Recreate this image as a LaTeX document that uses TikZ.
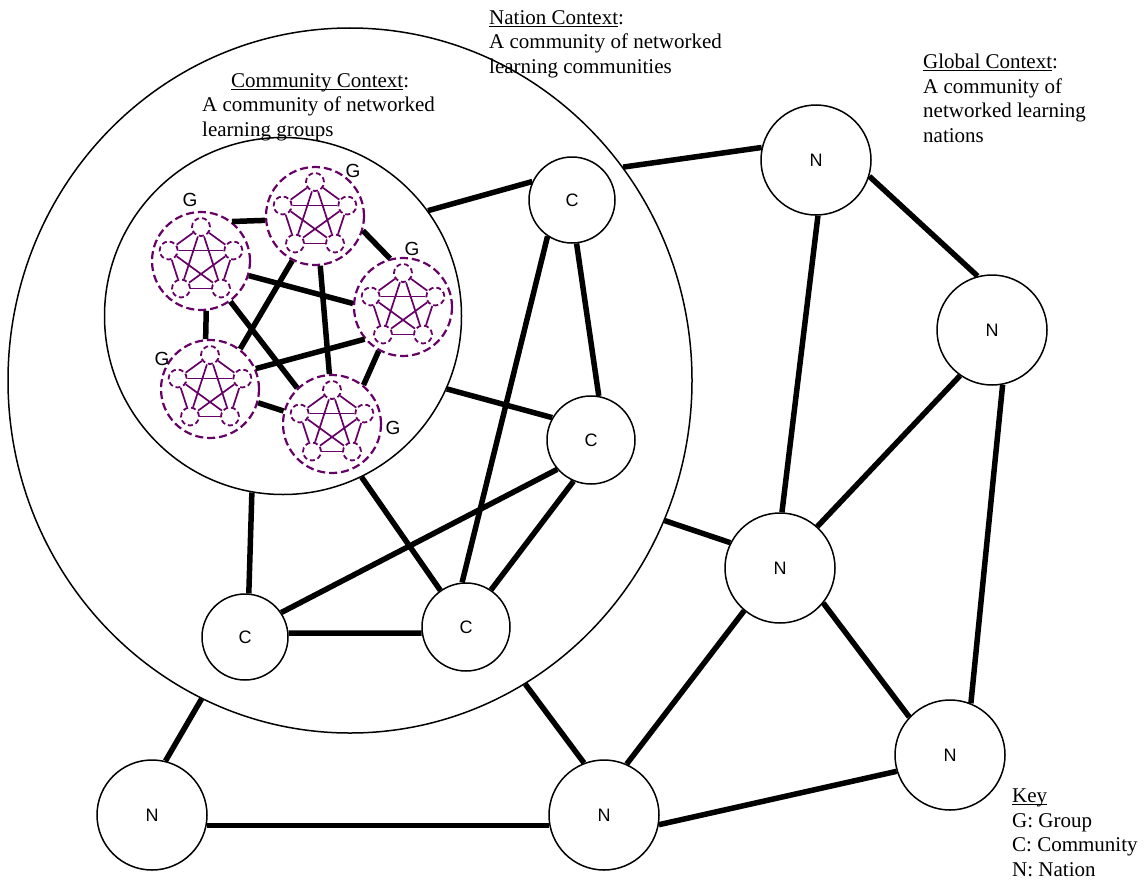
\documentclass[tikz,border=0pt]{standalone}
\usepackage{fontspec}
\setmainfont{Liberation Serif}
\setsansfont{Liberation Sans}
\usetikzlibrary{shapes.geometric}
\definecolor{GroupPurple}{HTML}{660066}
\newcommand{\ctxline}[1]{\setbox0\hbox{#1}\rlap{\rule[-2.5pt]{\wd0}{1pt}}#1}

\begin{document}
\begin{tikzpicture}[x=1pt,y=-1pt,
  every node/.style={font=\fontsize{21}{24.5}\selectfont},
  ctx/.style={anchor=north west, inner sep=0, align=left},
  realm/.style={draw, line width=1.5pt, inner sep=0},
  member/.style={draw, circle, line width=1.5pt, fill=white, inner sep=0, font=\sffamily\fontsize{18}{18}\selectfont},
  grp/.style={draw=GroupPurple, circle, line width=2.2pt, dash pattern=on 8pt off 4pt, minimum size=98pt, inner sep=0},
  subgrp/.style={draw=GroupPurple, circle, line width=1.8pt, dash pattern=on 5pt off 3pt, minimum size=18pt, inner sep=0},
  glab/.style={font=\sffamily\fontsize{19}{19}\selectfont, inner sep=0},
  link/.style={line width=5.5pt},
  sublink/.style={GroupPurple, line width=1.7pt}]
  \useasboundingbox (0,0) rectangle (1147,883);

  \node[realm, ellipse, minimum width=684pt, minimum height=705pt] (nation) at (350,380.5) {};
  \node[realm, circle, minimum size=357pt] (comm) at (283,316) {};

  \node[grp] (g1) at (201,261) {};
  \node[grp] (g2) at (315,216) {};
  \node[grp] (g3) at (403,307) {};
  \node[grp] (g4) at (210,389) {};
  \node[grp] (g5) at (332,424) {};
  \foreach \g in {1,...,5} {
    \foreach \k in {1,...,5}
      \node[subgrp] (g\g s\k) at ([shift={(18+72*\k:34pt)}]g\g.center) {};
    \foreach \a/\b in {1/2,2/3,3/4,4/5,5/1,1/3,3/5,5/2,2/4,4/1}
      \draw[sublink] (g\g s\a) -- (g\g s\b);
  }
  \node[glab] (l1) at (190,200) {G};
  \node[glab] (l2) at (353,171) {G};
  \node[glab] (l3) at (412,249) {G};
  \node[glab] (l4) at (162,359) {G};
  \node[glab] (l5) at (393,428) {G};

  \node[member, minimum size=86pt] (c1) at (572,200) {C};
  \node[member, minimum size=88pt] (c2) at (591,440) {C};
  \node[member, minimum size=86pt] (c3) at (245,637) {C};
  \node[member, minimum size=88pt] (c4) at (466,627) {C};

  \node[member, minimum size=110pt] (n1) at (816,160) {N};
  \node[member, minimum size=110pt] (n2) at (992,330) {N};
  \node[member, minimum size=110pt] (n3) at (780,568) {N};
  \node[member, minimum size=110pt] (n4) at (950,755) {N};
  \node[member, minimum size=110pt] (n5) at (152,815) {N};
  \node[member, minimum size=110pt] (n6) at (604,815) {N};

  \draw[link] (g1.52) -- (g2.185);
  \draw[link] (g2.-17) -- (g3.105);
  \draw[link] (g1.-84) -- (g4.95);
  \draw[link] (g4.-16) -- (g5.165);
  \draw[link] (g3.-119) -- (g5.51);
  \draw[link] (g1.-17) -- (g3.176);
  \draw[link] (g1.-54) -- (g5.134);
  \draw[link] (g2.-117) -- (g4.53);
  \draw[link] (g2.-84) -- (g5.93);
  \draw[link] (g4.24) -- (g3.-140);

  \draw[link] (comm.36) -- (c1.155);
  \draw[link] (comm.-24) -- (c2.150);
  \draw[link] (comm.-100) -- (c3.85);
  \draw[link] (comm.-64) -- (c4.125);
  \draw[link] (c1.-124) -- (c4.95);
  \draw[link] (c1.-84) -- (c2.80);
  \draw[link] (c2.-139) -- (c3.34);
  \draw[link] (c2.-113) -- (c4.56);
  \draw[link] (c3.5) -- (c4.188);

  \draw[link] (nation.38) -- (n1.167);
  \draw[link] (nation.-24) -- (n3.153);
  \draw[link] (nation.-115) -- (n5.76);
  \draw[link] (nation.-60) -- (n6.111);
  \draw[link] (n1.-17) -- (n2.105);
  \draw[link] (n1.-88) -- (n3.88);
  \draw[link] (n2.-125) -- (n3.48);
  \draw[link] (n2.-79) -- (n4.68);
  \draw[link] (n3.-39) -- (n4.137);
  \draw[link] (n3.-130) -- (n6.66);
  \draw[link] (n4.-163) -- (n6.-10);
  \draw[link] (n5.-11) -- (n6.-169);

  \node[ctx] (nattext) at (489,10) {\ctxline{Nation Context}:\\A community of networked\\learning communities};
  \node[ctx] (globtext) at (923,54) {\ctxline{Global Context}:\\A community of\\networked learning\\nations};
  \node[ctx] (commtext) at (202,73) {\hspace*{29pt}\ctxline{Community Context}:\\A community of networked\\learning groups};
  \node[ctx] (keytext) at (1012,789) {\ctxline{Key}\\G: Group\\C: Community\\N: Nation};
\end{tikzpicture}
\end{document}
